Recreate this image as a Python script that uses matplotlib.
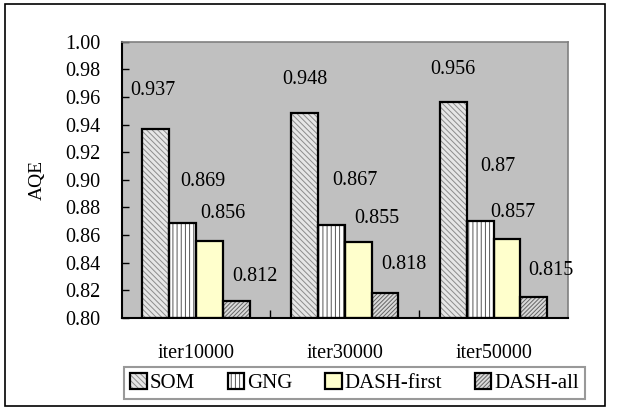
import matplotlib.pyplot as plt
import numpy as np
from matplotlib.patches import Patch, Rectangle

categories = ['iter10000', 'iter30000', 'iter50000']
series = ['SOM', 'GNG', 'DASH-first', 'DASH-all']
som = [0.937, 0.948, 0.956]
gng = [0.869, 0.867, 0.870]
dash_first = [0.856, 0.855, 0.857]
dash_all = [0.812, 0.818, 0.815]
value_text = [['0.937', '0.948', '0.956'],
              ['0.869', '0.867', '0.87'],
              ['0.856', '0.855', '0.857'],
              ['0.812', '0.818', '0.815']]

# label offsets in pixels (dx, dy from bar top centre), as placed in the original
label_offsets = [[(-3, 38), (0, 34), (-1, 33)],
                 [(20, 41), (24, 45), (18, 55)],
                 [(14, 27), (19, 23), (6, 27)],
                 [(19, 25), (19, 29), (17, 27)]]

faces = ['#e6e6e6', 'white', '#ffffcc', '#d9d9d9']
hatch_cols = ['#8c8c8c', '#555555', '#ffffcc', '#666666']
hatches = ['\\\\\\\\\\\\', '||||', '', '////////']

plt.rcParams['font.family'] = ['Liberation Serif', 'DejaVu Serif']
plt.rcParams['hatch.linewidth'] = 0.7

fig = plt.figure(figsize=(6.21, 4.08), dpi=100)
ax = fig.add_axes([0.1957, 0.2206, 0.7190, 0.6774])
ax.set_facecolor('#c0c0c0')

x = np.arange(len(categories))
w = 0.18
data = [som, gng, dash_first, dash_all]
handles = []
for i, vals in enumerate(data):
    pos = x + (i - 1.5) * w
    heights = np.array(vals) - 0.8
    ax.bar(pos, heights, w, bottom=0.8, color=faces[i], hatch=hatches[i],
           edgecolor=hatch_cols[i], linewidth=0, zorder=2)
    ax.bar(pos, heights, w, bottom=0.8, fill=False, edgecolor='black',
           linewidth=1.6, zorder=3)
    for j, v in enumerate(vals):
        ax.annotate(value_text[i][j], (pos[j], v), xytext=label_offsets[i][j],
                    textcoords='offset pixels', ha='center', va='center',
                    fontsize=14.5, zorder=4)
    handles.append((Patch(facecolor=faces[i], hatch=hatches[i], edgecolor=hatch_cols[i], linewidth=0),
                    Patch(fill=False, edgecolor='black', linewidth=1.6)))

ax.set_xlim(-0.5, 2.5)
ax.set_ylim(0.80, 1.00)
ax.set_yticks(np.arange(0.80, 1.001, 0.02))
ax.set_yticklabels(['%.2f' % t for t in np.arange(0.80, 1.001, 0.02)])
ax.set_xticks(x)
ax.set_xticklabels(categories)
ax.set_xticks([0.5, 1.5], minor=True)
ax.tick_params(axis='x', which='major', length=0, pad=19, labelsize=14.5)
ax.tick_params(axis='x', which='minor', direction='in', length=6, width=1)
ax.tick_params(axis='y', direction='in', length=5, width=1, pad=15, labelsize=14.5)
ax.set_ylabel('AQE', fontsize=14, labelpad=14)

for s in ['left', 'bottom']:
    ax.spines[s].set_linewidth(1.5)
    ax.spines[s].set_color('black')
for s in ['top', 'right']:
    ax.spines[s].set_linewidth(1.2)
    ax.spines[s].set_color('#808080')

leg = fig.legend(handles, series, loc='center', bbox_to_anchor=(0.571, 0.061),
                 ncol=4, fontsize=15, frameon=True, fancybox=False,
                 handlelength=0.8, handleheight=0.8, handletextpad=0.15,
                 columnspacing=1.55, borderpad=0.3, borderaxespad=0)
leg.get_frame().set_edgecolor('#808080')
leg.get_frame().set_linewidth(1.5)

fig.patches.append(Rectangle((0.008, 0.006), 0.967, 0.984, transform=fig.transFigure,
                             fill=False, edgecolor='black', linewidth=1.2))

plt.savefig('out.png', dpi=100)
